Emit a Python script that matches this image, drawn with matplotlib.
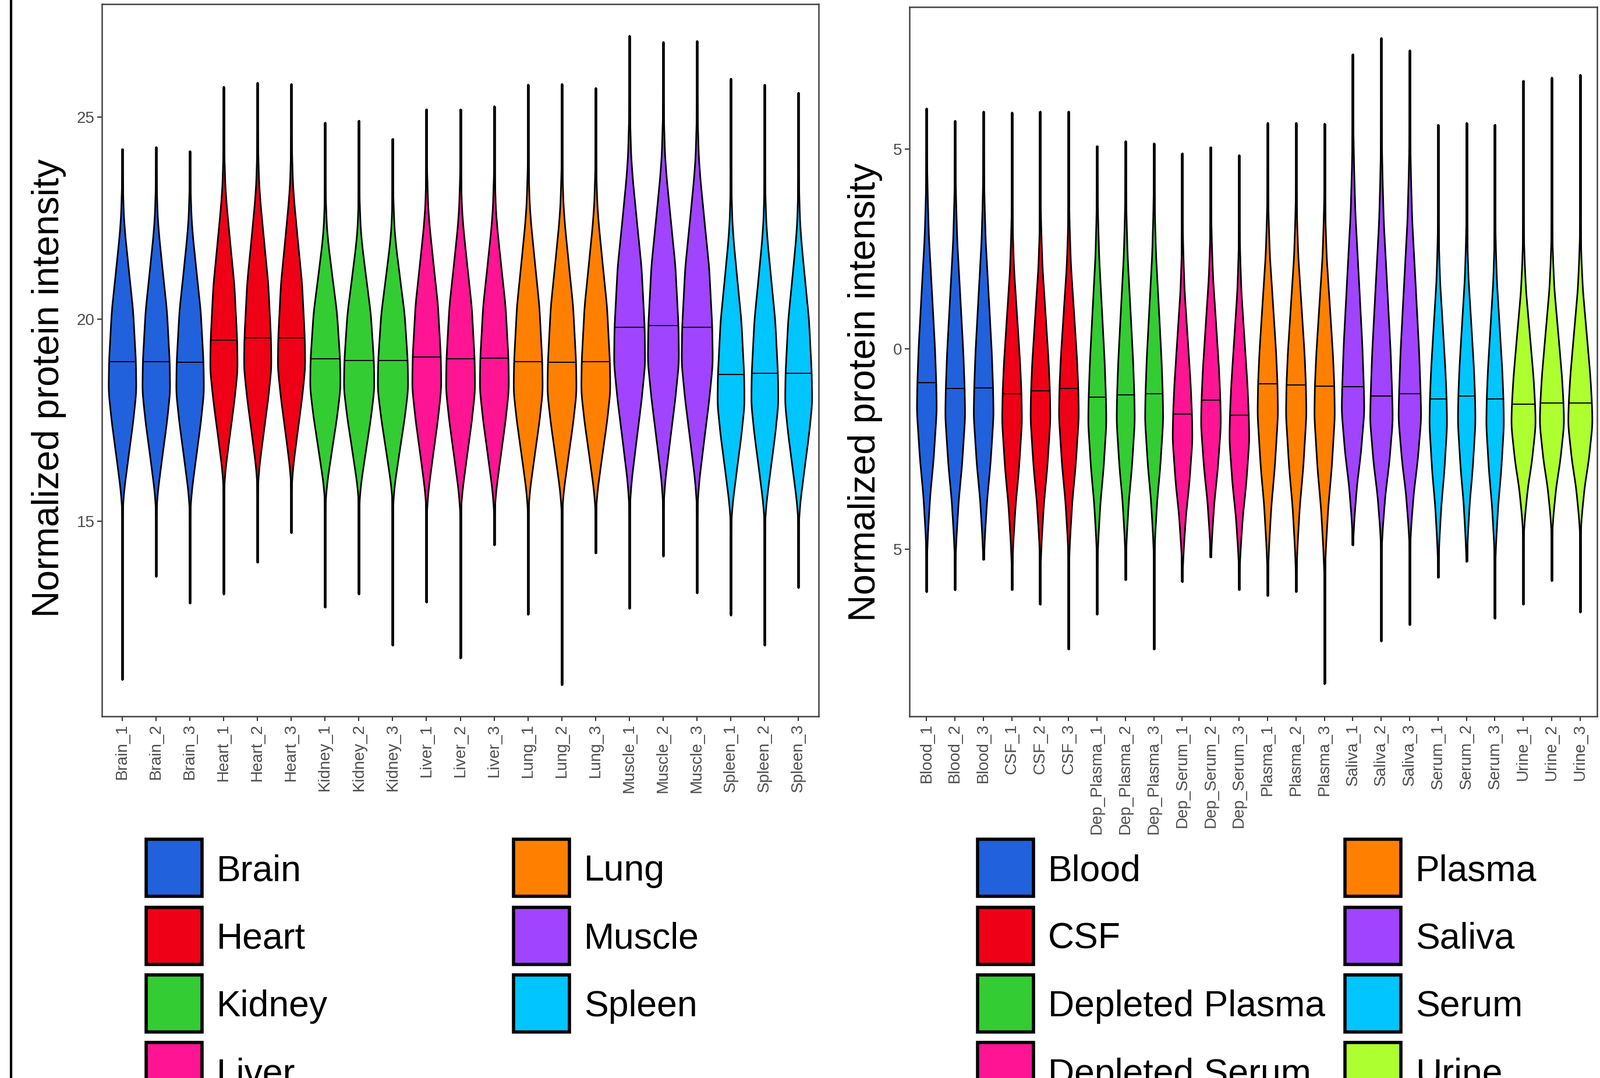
import numpy as np
import matplotlib.pyplot as plt
from matplotlib.patches import Rectangle
from matplotlib.lines import Line2D

plt.rcParams['font.family'] = ['Liberation Sans', 'DejaVu Sans']

# ---- tissue panel (left) ----
tissue_groups = ['Brain', 'Heart', 'Kidney', 'Liver', 'Lung', 'Muscle', 'Spleen']
tissue_colors = ['#2161DC', '#EE0016', '#33CC33', '#FF1493', '#FF8000', '#A044FF', '#00C5FF']
tissue_samples = [f'{g}_{k}' for g in tissue_groups for k in (1, 2, 3)]
tissue_median = [18.96, 18.96, 18.94, 19.49, 19.55, 19.55, 19.02, 18.99, 18.99,
                 19.07, 19.02, 19.04, 18.96, 18.94, 18.96, 19.80, 19.85, 19.80,
                 18.64, 18.66, 18.66]
tissue_max = [24.22, 24.27, 24.17, 25.76, 25.86, 25.83, 24.87, 24.92, 24.47,
              25.20, 25.20, 25.28, 25.81, 25.83, 25.73, 27.02, 26.87, 26.89,
              25.96, 25.81, 25.61]
tissue_min = [11.09, 13.64, 12.98, 13.20, 13.99, 14.72, 12.88, 13.20, 11.94,
              13.00, 11.62, 14.42, 12.70, 10.96, 14.22, 12.85, 14.14, 13.23,
              12.68, 11.94, 13.36]
# per group: stretch of the upper / lower part of the violin, and its max width
tissue_up = [1.0, 1.07, 0.91, 1.03, 1.09, 1.18, 1.05]
tissue_down = [1.0, 1.0, 0.96, 1.03, 1.0, 1.2, 1.0]
tissue_width = [0.82, 0.81, 0.9, 0.86, 0.86, 0.92, 0.8]
# violin outline: offset from median -> relative half width
tissue_shape_off = [-4.0, -3.6, -3.14, -2.4, -1.5, -0.75, 0.0, 1.26, 2.2, 3.1, 3.6, 4.4, 5.0]
tissue_shape_w = [0.0, 0.03, 0.14, 0.42, 0.77, 1.0, 0.97, 0.77, 0.48, 0.21, 0.1, 0.03, 0.0]

# ---- body fluid panel (right) ----
fluid_groups = ['Blood', 'CSF', 'Dep_Plasma', 'Dep_Serum', 'Plasma', 'Saliva', 'Serum', 'Urine']
fluid_names = ['Blood', 'CSF', 'Depleted Plasma', 'Depleted Serum', 'Plasma', 'Saliva',
               'Serum', 'Urine']
fluid_colors = ['#2161DC', '#EE0016', '#33CC33', '#FF1493', '#FF8000', '#A044FF',
                '#00C5FF', '#ADFF2F']
fluid_samples = [f'{g}_{k}' for g in fluid_groups for k in (1, 2, 3)]
fluid_median = [-0.84, -0.99, -0.97, -1.12, -1.05, -0.99, -1.20, -1.15, -1.12,
                -1.63, -1.28, -1.66, -0.87, -0.89, -0.92, -0.94, -1.17, -1.12,
                -1.25, -1.17, -1.25, -1.38, -1.35, -1.35]
fluid_max = [6.02, 5.71, 5.94, 5.92, 5.94, 5.94, 5.08, 5.20, 5.15, 4.90, 5.05, 4.85,
             5.66, 5.66, 5.64, 7.37, 7.78, 7.47, 5.61, 5.66, 5.61, 6.71, 6.79, 6.86]
fluid_min = [-6.07, -6.02, -5.26, -6.02, -6.38, -7.50, -6.63, -5.77, -7.50,
             -5.82, -5.20, -6.02, -6.17, -6.07, -8.37, -4.90, -7.30, -6.89,
             -5.71, -5.31, -6.73, -6.38, -5.79, -6.58]
fluid_up = [1.0, 0.84, 0.95, 0.84, 0.87, 1.18, 0.8, 0.77]
fluid_down = [1.0, 1.0, 0.94, 0.9, 1.09, 0.88, 0.95, 0.75]
fluid_width = [0.70, 0.70, 0.64, 0.70, 0.72, 0.80, 0.62, 0.86]
fluid_shape_off = [-4.5, -3.75, -2.8, -1.9, -0.7, 0.0, 0.89, 2.27, 3.67, 4.6, 5.5, 6.2]
fluid_shape_w = [0.0, 0.12, 0.35, 0.69, 1.0, 0.95, 0.82, 0.52, 0.21, 0.1, 0.03, 0.0]

W, H = 2748, 1851
fig = plt.figure(figsize=(W / 100, H / 100), dpi=100)
fig.patch.set_facecolor('white')


def outline(med, lo, hi, up, down, offs, wids):
    # piecewise outline from the picture, softened so it has no corners
    offs = np.array(offs)
    y = med + np.where(offs > 0, offs * up, offs * down)
    step = 0.02
    grid = np.arange(min(y[0], lo) - 1.0, max(y[-1], hi) + 1.0, step)
    w = np.interp(grid, y, wids, left=0.0, right=0.0)
    k = np.arange(-20, 21) * step
    kern = np.exp(-0.5 * (k / 0.15) ** 2)
    w = np.convolve(w, kern / kern.sum(), mode='same')
    keep = (grid > lo) & (grid < hi)
    coords = np.concatenate([[lo], grid[keep], [hi]])
    return coords, np.interp(coords, grid, w)


def draw_panel(ax, samples, colors, med, lo, hi, up, down, widths, offs, wids):
    for i, name in enumerate(samples):
        g = i // 3
        pos = i + 1
        ax.vlines(pos, lo[i], hi[i], color='black', lw=3.4, zorder=1)
        coords, w = outline(med[i], lo[i], hi[i], up[g], down[g], offs, wids)
        half = w * widths[g] / 2
        ax.fill_betweenx(coords, pos - half, pos + half, facecolor=colors[g],
                         edgecolor='black', lw=2.0, zorder=2)
        hw = np.interp(med[i], coords, half)
        ax.hlines(med[i], pos - hw, pos + hw, color='black', lw=1.4, zorder=3)
    ax.set_xlim(0.4, len(samples) + 0.6)
    ax.set_xticks(range(1, len(samples) + 1), labels=samples, rotation=90)
    ax.tick_params(labelsize=20, labelcolor='#4d4d4d', color='#333333',
                   length=6, width=1.5, pad=3)
    for s in ax.spines.values():
        s.set_color('#444444')
        s.set_linewidth(1.8)


ax1 = fig.add_axes([175 / W, 1 - 1230 / H, 1231 / W, 1223 / H])
draw_panel(ax1, tissue_samples, tissue_colors, tissue_median, tissue_min, tissue_max,
           tissue_up, tissue_down, tissue_width, tissue_shape_off, tissue_shape_w)
ax1.set_ylim(10.18, 27.80)
ax1.set_yticks([15, 20, 25])

ax2 = fig.add_axes([1562 / W, 1 - 1230 / H, 1181 / W, 1218 / H])
draw_panel(ax2, fluid_samples, fluid_colors, fluid_median, fluid_min, fluid_max,
           fluid_up, fluid_down, fluid_width, fluid_shape_off, fluid_shape_w)
ax2.set_ylim(-9.18, 8.55)
ax2.set_yticks([-5, 0, 5], labels=['5', '0', '5'])

fig.text(84 / W, 1 - 666 / H, 'Normalized protein intensity', rotation=90,
         ha='center', va='center', fontsize=46)
fig.text(1486 / W, 1 - 673 / H, 'Normalized protein intensity', rotation=90,
         ha='center', va='center', fontsize=46)

# left border line of the figure
fig.add_artist(Line2D([19 / W, 19 / W], [0, 1], color='black', lw=3))


def draw_legend(names, colors, col_x):
    for j, (nm, c) in enumerate(zip(names, colors)):
        col, row = divmod(j, 4)
        x0 = col_x[col]
        yc = 1490 + row * 116.5
        fig.add_artist(Rectangle((x0 / W, 1 - (yc + 49) / H), 96 / W, 98 / H,
                                 facecolor=c, edgecolor='black', lw=4,
                                 transform=fig.transFigure))
        fig.text((x0 + 121) / W, 1 - (yc + 22) / H, nm, ha='left', va='baseline',
                 fontsize=45)


draw_legend(tissue_groups, tissue_colors, [251, 882])
draw_legend(fluid_names, fluid_colors, [1679, 2310])

fig.savefig('out.png', dpi=100, facecolor='white')
